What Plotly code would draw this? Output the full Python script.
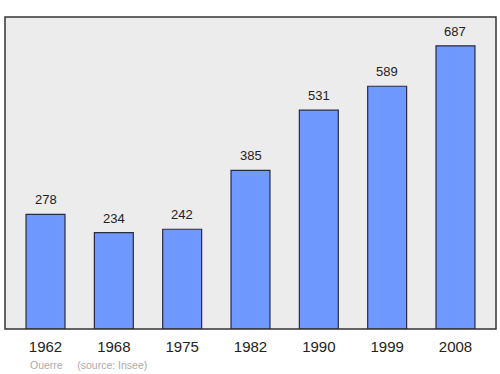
import plotly.graph_objects as go

years = ["1962", "1968", "1975", "1982", "1990", "1999", "2008"]
population = [278, 234, 242, 385, 531, 589, 687]
commune = "Ouerre"
source = "(source: Insee)"

FONT = "Liberation Sans, Arial, sans-serif"

fig = go.Figure()
fig.add_trace(go.Bar(
    x=list(range(len(years))), y=population, width=0.57,
    marker=dict(color="#7099ff", line=dict(color="#2a2a40", width=1.2)),
    hoverinfo="skip",
))
for i, v in enumerate(population):
    fig.add_annotation(x=i, y=v, text=str(v), showarrow=False, yanchor="bottom",
                       yshift=5, font=dict(size=13, color="#222", family=FONT))

fig.add_shape(type="rect", xref="paper", yref="paper", x0=0, y0=0, x1=1, y1=1,
              line=dict(color="#333333", width=1.5), fillcolor="rgba(0,0,0,0)", layer="above")

fig.add_annotation(xref="paper", yref="paper", x=0.047, y=-0.114, xanchor="left", yanchor="middle",
                   text=commune + "&nbsp;&nbsp;&nbsp;&nbsp;&nbsp;" + source, showarrow=False,
                   font=dict(size=10.5, color="#aaaaaa", family=FONT))

fig.update_layout(
    width=500, height=374,
    margin=dict(l=5, r=4, t=17, b=45),
    paper_bgcolor="white", plot_bgcolor="#ececec",
    showlegend=False,
    xaxis=dict(range=[-0.593, 6.593], tickmode="array", tickvals=list(range(len(years))),
               ticktext=years, showgrid=False, zeroline=False, ticks="", ticklabelstandoff=7,
               tickfont=dict(size=15, color="#222", family=FONT), fixedrange=True),
    yaxis=dict(range=[0, 757], showgrid=False, zeroline=False, showticklabels=False, ticks="",
               fixedrange=True),
)
fig.write_html("out.html")
